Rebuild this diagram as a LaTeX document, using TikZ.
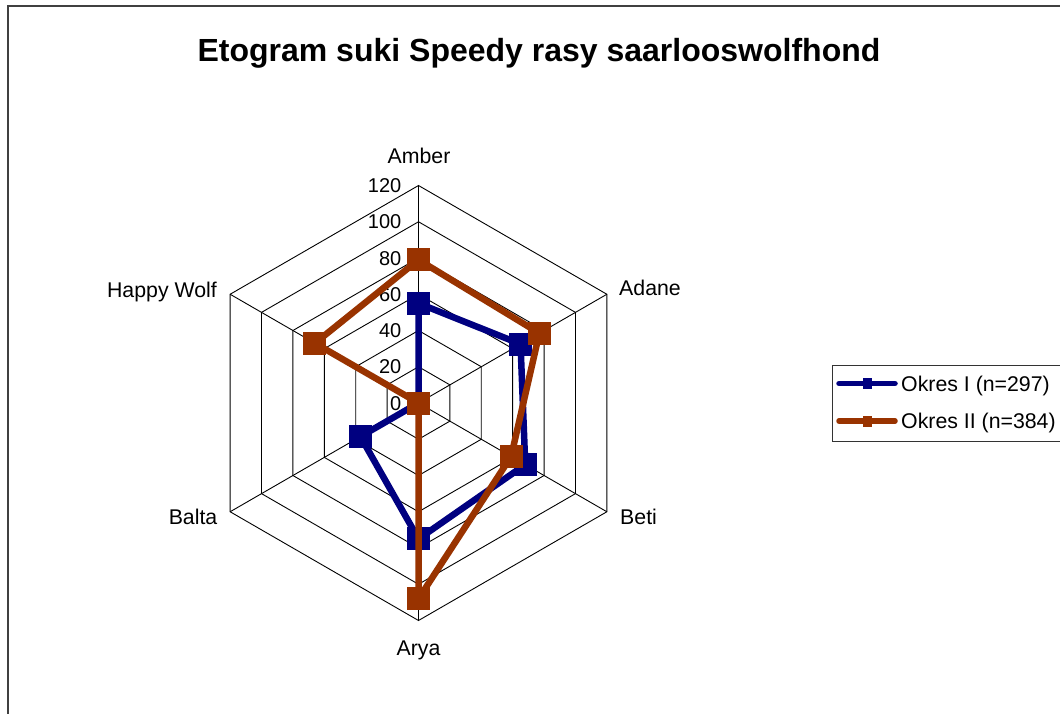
\documentclass[tikz,border=0pt]{standalone}
\usepackage{fontspec}
\setmainfont{Liberation Sans}
\begin{document}
\begin{tikzpicture}[x=1pt,y=-1pt,
  gridline/.style={black, line width=0.9pt},
  lab/.style={font=\fontsize{21.3}{25}\selectfont, inner sep=0pt},
  tick/.style={font=\fontsize{20}{24}\selectfont, inner sep=0pt},
  ttl/.style={font=\bfseries\fontsize{32}{38}\selectfont, inner sep=0pt},
  serA/.style={draw=none, fill=navyc, minimum size=23pt, inner sep=0pt, rectangle},
  serB/.style={draw=none, fill=rustc, minimum size=23pt, inner sep=0pt, rectangle},
  lineA/.style={navyc, line width=6.5pt, line join=round},
  lineB/.style={rustc, line width=6.5pt, line join=round},
  legA/.style={draw=none, fill=navyc, minimum width=9pt, minimum height=11pt, inner sep=0pt, rectangle},
  legB/.style={draw=none, fill=rustc, minimum width=9pt, minimum height=11pt, inner sep=0pt, rectangle},
  leglineA/.style={navyc, line width=5.5pt, line cap=round},
  leglineB/.style={rustc, line width=5.5pt, line cap=round}]
\definecolor{navyc}{HTML}{000080}
\definecolor{rustc}{HTML}{993300}
\useasboundingbox (0,0) rectangle (1060,713);
\fill[white] (0,0) rectangle (1060,713);
\draw[line width=2pt, black!75] (8.3,5.7) rectangle (1080,730);
% title
\node[ttl, anchor=base] (title) at (539,61) {Etogram suki Speedy rasy saarlooswolfhond};
% radar
\begin{scope}[shift={(418.5,403)}]
  \foreach \l in {20,40,...,120} {
    \pgfmathsetmacro{\r}{\l*1.8125}
    \draw[gridline] (-90:\r) -- (-30:\r) -- (30:\r) -- (90:\r) -- (150:\r) -- (210:\r) -- cycle;
  }
  \foreach \a in {-90,-30,30,90,150,210}
    \draw[gridline] (0,0) -- (\a:217.5);
  \foreach \l in {0,20,...,120} {
    \pgfmathsetmacro{\yy}{-\l*1.8125+7.2}
    \node[tick, anchor=base east] (t\l) at (-17,\yy) {\l};
  }
  % series Okres I
  \node[serA] (a1) at (-90:55*1.8125) {};
  \node[serA] (a2) at (-30:65*1.8125) {};
  \node[serA] (a3) at (30:68*1.8125) {};
  \node[serA] (a4) at (90:75*1.8125) {};
  \node[serA] (a5) at (150:37*1.8125) {};
  \node[serA] (a6) at (0,0) {};
  \draw[lineA] (a1.center) -- (a2.center) -- (a3.center) -- (a4.center) -- (a5.center) -- (a6.center) -- cycle;
  \foreach \n in {a1,a2,a3,a4,a5,a6} \fill[navyc] ([shift={(-11.5,-11.5)}]\n.center) rectangle ([shift={(11.5,11.5)}]\n.center);
  % series Okres II
  \node[serB] (b1) at (-90:79*1.8125) {};
  \node[serB] (b2) at (-30:77*1.8125) {};
  \node[serB] (b3) at (30:59*1.8125) {};
  \node[serB] (b4) at (90:108*1.8125) {};
  \node[serB] (b5) at (0,0) {};
  \node[serB] (b6) at (210:66*1.8125) {};
  \draw[lineB] (b1.center) -- (b2.center) -- (b3.center) -- (b4.center) -- (b5.center) -- (b6.center) -- cycle;
  \foreach \n in {b1,b2,b3,b4,b5,b6} \fill[rustc] ([shift={(-11.5,-11.5)}]\n.center) rectangle ([shift={(11.5,11.5)}]\n.center);
\end{scope}
% axis labels
\node[lab, anchor=base] (amber) at (419,163) {Amber};
\node[lab, anchor=base west] (adane) at (619,295.5) {Adane};
\node[lab, anchor=base west] (beti) at (620,524.5) {Beti};
\node[lab, anchor=base] (arya) at (418.5,655.5) {Arya};
\node[lab, anchor=base east] (balta) at (217.5,524.5) {Balta};
\node[lab, anchor=base east] (happy) at (217,297) {Happy Wolf};
% legend
\draw[black!80, line width=1pt] (832.3,365) rectangle (1075,441);
\coordinate (l1a) at (839,383.5);
\coordinate (l1b) at (895,383.5);
\draw[leglineA] (l1a) -- (l1b);
\node[legA] (l1m) at (867,383.5) {};
\node[lab, anchor=base west] (l1t) at (901,391.2) {Okres I (n=297)};
\coordinate (l2a) at (839,421);
\coordinate (l2b) at (895,421);
\draw[leglineB] (l2a) -- (l2b);
\node[legB] (l2m) at (867,421) {};
\node[lab, anchor=base west] (l2t) at (901,428.7) {Okres II (n=384)};
\end{tikzpicture}
\end{document}
